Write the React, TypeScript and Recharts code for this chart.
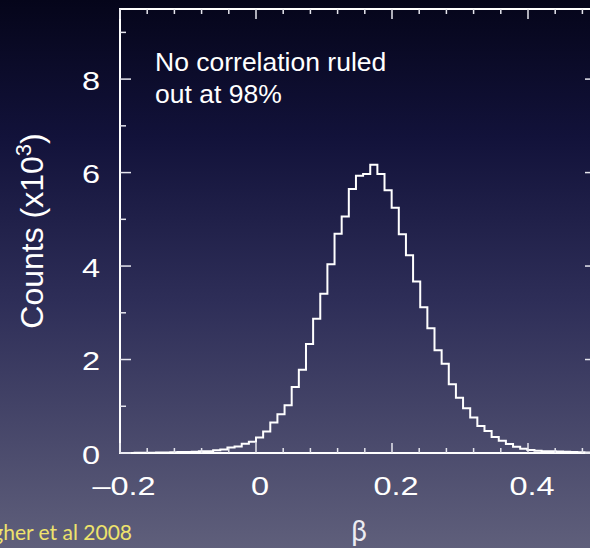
import { LineChart, Line, XAxis, YAxis, ReferenceArea } from "recharts";

// histogram of beta, counts in units of 10^3
const BIN_WIDTH = 0.0105;
const FIRST_EDGE = -0.1995;
const counts = [
  0, 0, 0.005, 0.005, 0.005, 0.01, 0.01, 0.015, 0.02, 0.02,
  0.025, 0.035, 0.04, 0.06, 0.075, 0.12, 0.14, 0.2, 0.24, 0.33,
  0.46, 0.65, 0.83, 1.02, 1.41, 1.78, 2.33, 2.87, 3.41, 4.04,
  4.69, 5.06, 5.65, 5.93, 5.97, 6.17, 5.97, 5.62, 5.25, 4.68,
  4.23, 3.67, 3.12, 2.67, 2.2, 1.91, 1.47, 1.18, 0.96, 0.76,
  0.58, 0.47, 0.34, 0.26, 0.19, 0.135, 0.09, 0.065, 0.05, 0.04,
  0.035, 0.03, 0.025, 0.02, 0.015, 0.01, 0.01,
];

const xTicks = [
  -0.2, -0.16, -0.12, -0.08, -0.04, 0, 0.04, 0.08, 0.12, 0.16,
  0.2, 0.24, 0.28, 0.32, 0.36, 0.4, 0.44, 0.48,
];
const xMajor = [-0.2, 0, 0.2, 0.4];
const xLabels = ["\u20130.2", "0", "0.2", "0.4"];
const yTicks = [0, 1, 2, 3, 4, 5, 6, 7, 8, 9];
const yMajor = [0, 2, 4, 6, 8];

// each bin starts at its left edge; last point closes the final step
const data = counts.map((c, i) => ({ x: FIRST_EDGE + i * BIN_WIDTH, count: c }));
data.push({ x: FIRST_EDGE + counts.length * BIN_WIDTH, count: counts[counts.length - 1] });

const W = 610;
const H = 548;
const M = { top: 9, right: 14, bottom: 55, left: 0 };
const Y_AXIS_W = 120;
const X_AXIS_H = 40;
const PLOT_TOP = M.top;
const PLOT_RIGHT = W - M.right;

const TICK = "#e6e6ee";
const FONT = "'Liberation Sans', Arial, Helvetica, sans-serif";
const SLIDE_FONT = "Lato, 'Open Sans', sans-serif";

function majorIndex(list: number[], v: number) {
  return list.findIndex((m) => Math.abs(m - v) < 1e-6);
}

function XTick(props: any) {
  const { x, y, payload } = props;
  const idx = majorIndex(xMajor, payload.value);
  const len = idx >= 0 ? 10 : 5;
  return (
    <g>
      <line x1={x} x2={x} y1={y} y2={y - len} stroke={TICK} strokeWidth={1.5} />
      <line x1={x} x2={x} y1={PLOT_TOP} y2={PLOT_TOP + len} stroke={TICK} strokeWidth={1.5} />
      {idx >= 0 && (
        <text
          transform={`translate(${x + 4},${y + 42}) scale(1.3,1)`}
          textAnchor="middle"
          fill="#fff"
          fontSize={25}
          fontFamily={FONT}
        >
          {xLabels[idx]}
        </text>
      )}
    </g>
  );
}

function YTick(props: any) {
  const { x, y, payload } = props;
  const major = majorIndex(yMajor, payload.value) >= 0;
  const len = major ? 11 : 6;
  return (
    <g>
      <line x1={x} x2={x + len} y1={y} y2={y} stroke={TICK} strokeWidth={1.5} />
      <line x1={PLOT_RIGHT} x2={PLOT_RIGHT - len} y1={y} y2={y} stroke={TICK} strokeWidth={1.5} />
      {major && (
        <text
          transform={`translate(${x - 20},${y + 10.5}) scale(1.3,1)`}
          textAnchor="end"
          fill="#fff"
          fontSize={25}
          fontFamily={FONT}
        >
          {payload.value}
        </text>
      )}
    </g>
  );
}

function YLabel(props: any) {
  const { viewBox } = props;
  const cy = viewBox.y + viewBox.height / 2;
  return (
    <text
      transform={`translate(43,${cy}) rotate(-90)`}
      textAnchor="middle"
      fill="#fff"
      fontSize={32}
      fontFamily={FONT}
    >
      Counts (x10
      <tspan dy={-12} fontSize={22}>3</tspan>
      <tspan dy={12}>)</tspan>
    </text>
  );
}

export default function App() {
  return (
    <div
      style={{
        position: "fixed",
        left: 0,
        top: 0,
        width: 590,
        height: 548,
        overflow: "hidden",
        background:
          "linear-gradient(to bottom, #05051a 0%, #12123a 25%, #2e2e58 55%, #5f5f7b 100%)",
      }}
    >
      <LineChart width={W} height={H} data={data} margin={M}>
        <XAxis
          dataKey="x"
          type="number"
          domain={[-0.2, 0.5]}
          allowDataOverflow
          ticks={xTicks}
          interval={0}
          tick={<XTick />}
          tickLine={false}
          axisLine={false}
          tickSize={0}
          tickMargin={0}
          height={X_AXIS_H}
        />
        <YAxis
          type="number"
          domain={[0, 9.5]}
          allowDataOverflow
          ticks={yTicks}
          interval={0}
          tick={<YTick />}
          tickLine={false}
          axisLine={false}
          tickSize={0}
          tickMargin={0}
          width={Y_AXIS_W}
          label={<YLabel />}
        />
        <ReferenceArea
          x1={-0.2}
          x2={0.5}
          y1={0}
          y2={9.5}
          fill="none"
          fillOpacity={0}
          stroke="#fff"
          strokeWidth={2}
        />
        <Line
          dataKey="count"
          type="stepAfter"
          stroke="#fff"
          strokeWidth={2}
          dot={false}
          isAnimationActive={false}
        />
        <text x={155} y={71} fill="#fff" fontSize={26.5} fontFamily={FONT}>
          No correlation ruled
        </text>
        <text x={155} y={103} fill="#fff" fontSize={26.5} fontFamily={FONT}>
          out at 98%
        </text>
        <text x={359} y={541} textAnchor="middle" fill="#ececf2" fontSize={28} fontFamily={SLIDE_FONT}>
          β
        </text>
        <text x={132} y={540} textAnchor="end" fill="#eee36c" fontSize={21} fontFamily={SLIDE_FONT}>
          Gallagher et al 2008
        </text>
      </LineChart>
    </div>
  );
}
